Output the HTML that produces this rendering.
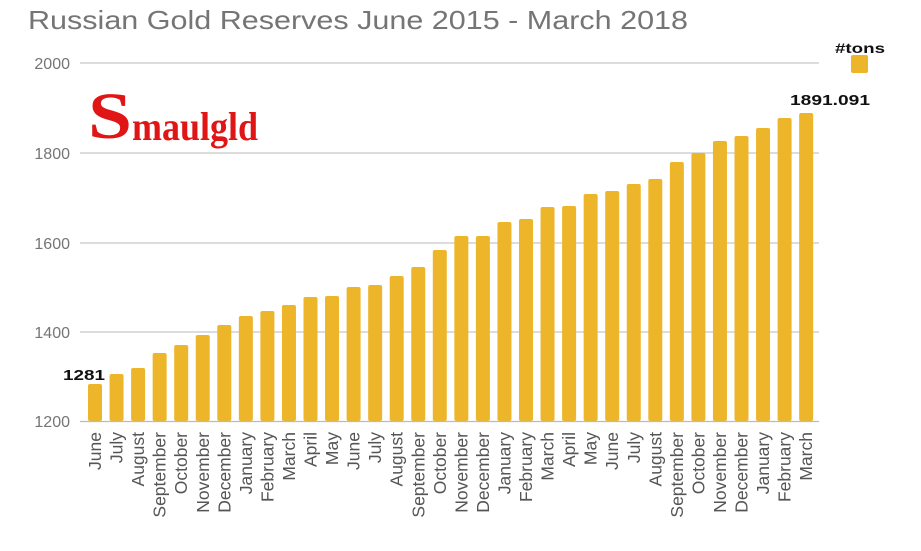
<!DOCTYPE html>
<html><head><meta charset="utf-8"><style>
html,body{margin:0;padding:0;background:#fff;}
svg{display:block;}
</style></head><body>
<svg width="921" height="551" xmlns="http://www.w3.org/2000/svg" font-family="'Liberation Sans', sans-serif">
<rect width="921" height="551" fill="#fff"/>
<text x="28" y="29" font-size="26" fill="#757575" textLength="660" lengthAdjust="spacingAndGlyphs">Russian Gold Reserves June 2015 - March 2018</text>
<g stroke="#c8c8c8" stroke-width="1.3">
<line x1="80" y1="63" x2="819" y2="63"/>
<line x1="80" y1="153" x2="819" y2="153"/>
<line x1="80" y1="243" x2="819" y2="243"/>
<line x1="80" y1="332" x2="819" y2="332"/>
</g>
<g font-size="16" fill="#757575" text-anchor="end">
<text x="70" y="69">2000</text>
<text x="70" y="159">1800</text>
<text x="70" y="249">1600</text>
<text x="70" y="338">1400</text>
<text x="70" y="427">1200</text>
</g>
<rect x="84" y="80" width="190" height="70" fill="#fff"/>
<text x="88" y="138" font-family="'Liberation Serif', serif" font-weight="bold" fill="#e01515" font-size="66" textLength="44" lengthAdjust="spacingAndGlyphs">S</text>
<text x="132" y="140" font-family="'Liberation Serif', serif" font-weight="bold" fill="#e01515" font-size="40" textLength="126" lengthAdjust="spacingAndGlyphs">maulgld</text>
<g id="bars" fill="#EDB52A"></g>
<line x1="80" y1="421.5" x2="819" y2="421.5" stroke="#bbb" stroke-width="1.3"/>
<g id="labels" font-size="17.5" fill="#555"></g>
<text x="63" y="380" font-size="15" font-weight="bold" fill="#111" textLength="42" lengthAdjust="spacingAndGlyphs">1281</text>
<text x="790" y="105" font-size="15" font-weight="bold" fill="#111" textLength="80" lengthAdjust="spacingAndGlyphs">1891.091</text>
<text x="835" y="53" font-size="14" font-weight="bold" fill="#111" textLength="50" lengthAdjust="spacingAndGlyphs">#tons</text>
<rect x="851" y="55" width="17" height="18" rx="2" fill="#EDB52A"/>
<script>
var tops=[384,374,368,353,345,335,325,316,311,305,297,296,287,285,276,267,250,236,236,222,219,207,206,194,191,184,179,162,153,141,136,128,118,113];
var names=["June","July","August","September","October","November","December","January","February","March","April","May","June","July","August","September","October","November","December","January","February","March","April","May","June","July","August","September","October","November","December","January","February","March"];
var b=document.getElementById('bars'),l=document.getElementById('labels'),ns="http://www.w3.org/2000/svg";
for(var i=0;i<34;i++){var c=95+i*21.55;
var r=document.createElementNS(ns,'rect');r.setAttribute('x',c-7);r.setAttribute('y',tops[i]);r.setAttribute('width',14);r.setAttribute('height',421-tops[i]);r.setAttribute('rx',2);b.appendChild(r);
var t=document.createElementNS(ns,'text');t.setAttribute('transform','translate('+(c+6)+',432) rotate(-90)');t.setAttribute('text-anchor','end');t.textContent=names[i];l.appendChild(t);}
</script>
</svg>
</body></html>
